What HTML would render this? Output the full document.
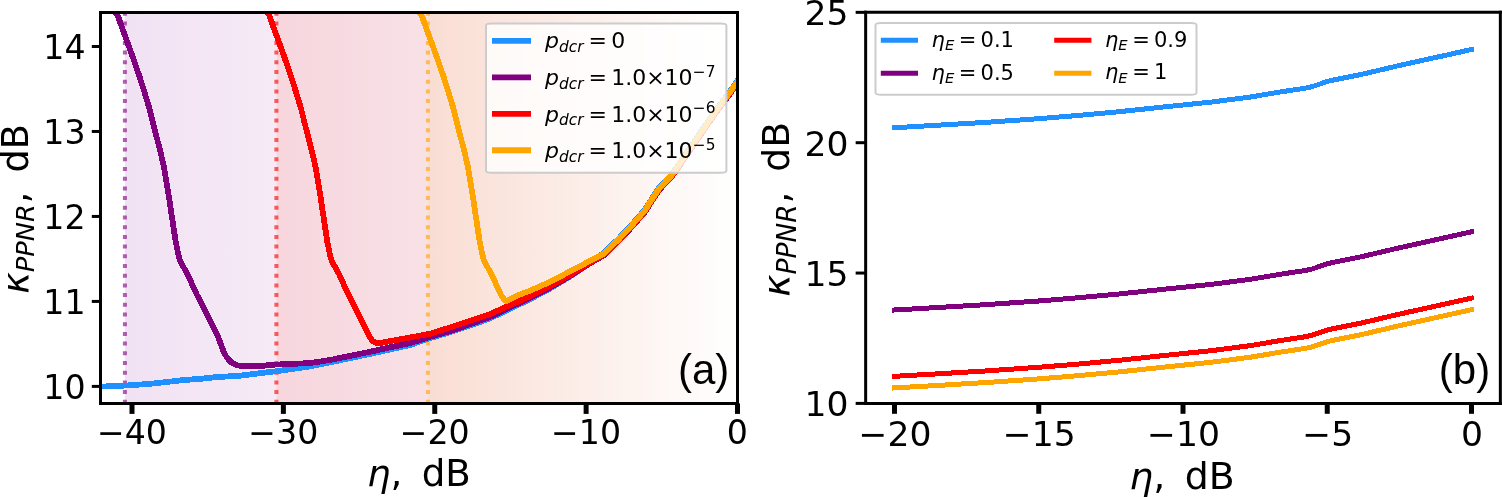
<!DOCTYPE html>
<html><head><meta charset="utf-8"><title>figure</title>
<style>html,body{margin:0;padding:0;background:#fff;}body{width:1502px;height:497px;overflow:hidden;}svg{display:block;}</style>
</head><body>
<svg width="1502" height="497" viewBox="0 0 1502 497" version="1.1"> <defs> <style type="text/css">svg *{stroke-linejoin: round; stroke-linecap: butt}</style> </defs> <g id="figure_1"> <g id="patch_1"> <path d="M 0 497 L 1502 497 L 1502 0 L 0 0 z " style="fill: #ffffff"/> </g> <g id="axes_1"> <g id="patch_2"> <path d="M 100.5 403.4 L 737.5 403.4 L 737.5 12.4 L 100.5 12.4 z " style="fill: #ffffff"/> </g> <g id="bg"><defs><linearGradient id="bgg0" x1="0" y1="0" x2="1" y2="0"><stop offset="0" stop-color="rgb(241,226,243)"/><stop offset="1" stop-color="rgb(246,234,246)"/></linearGradient><linearGradient id="bgg1" x1="0" y1="0" x2="1" y2="0"><stop offset="0" stop-color="rgb(247,214,222)"/><stop offset="1" stop-color="rgb(248,225,230)"/></linearGradient><linearGradient id="bgg2" x1="0" y1="0" x2="1" y2="0"><stop offset="0" stop-color="rgb(249,221,211)"/><stop offset="1" stop-color="rgb(255,255,255)"/></linearGradient></defs><rect x="124.90" y="12.40" width="151.51" height="391.00" fill="url(#bgg0)"/><rect x="276.40" y="12.40" width="151.51" height="391.00" fill="url(#bgg1)"/><rect x="427.90" y="12.40" width="309.61" height="391.00" fill="url(#bgg2)"/></g> <g id="line2d_1"> <path d="M 124.9 403.791 L 124.9 12.4 " clip-path="url(#p81930a7dab)" style="fill: none; stroke-dasharray: 4,5.7; stroke-dashoffset: 0; stroke: #800080; stroke-opacity: 0.62; stroke-width: 4"/> </g> <g id="line2d_2"> <path d="M 276.4 403.791 L 276.4 12.4 " clip-path="url(#p81930a7dab)" style="fill: none; stroke-dasharray: 4,5.7; stroke-dashoffset: 0; stroke: #ff0000; stroke-opacity: 0.62; stroke-width: 4"/> </g> <g id="line2d_3"> <path d="M 427.9 403.791 L 427.9 12.4 " clip-path="url(#p81930a7dab)" style="fill: none; stroke-dasharray: 4,5.7; stroke-dashoffset: 0; stroke: #ffa500; stroke-opacity: 0.62; stroke-width: 4"/> </g> <g id="matplotlib.axis_1"> <g id="xtick_1"> <g id="line2d_4"> <g> <path transform="translate(132 403.4)" d="M 0 0 L 0 10.5 " style="stroke: #000000; stroke-width: 5"/> </g> </g> </g> <g id="xtick_2"> <g id="line2d_5"> <g> <path transform="translate(283.375 403.4)" d="M 0 0 L 0 10.5 " style="stroke: #000000; stroke-width: 5"/> </g> </g> </g> <g id="xtick_3"> <g id="line2d_6"> <g> <path transform="translate(434.75 403.4)" d="M 0 0 L 0 10.5 " style="stroke: #000000; stroke-width: 5"/> </g> </g> </g> <g id="xtick_4"> <g id="line2d_7"> <g> <path transform="translate(586.125 403.4)" d="M 0 0 L 0 10.5 " style="stroke: #000000; stroke-width: 5"/> </g> </g> </g> <g id="xtick_5"> <g id="line2d_8"> <g> <path transform="translate(737.5 403.4)" d="M 0 0 L 0 10.5 " style="stroke: #000000; stroke-width: 5"/> </g> </g> </g> </g> <g id="matplotlib.axis_2"> <g id="ytick_1"> <g id="line2d_9"> <g> <path transform="translate(100.5 386.4)" d="M 0 0 L -8.7 0 " style="stroke: #000000; stroke-width: 3"/> </g> </g> </g> <g id="ytick_2"> <g id="line2d_10"> <g> <path transform="translate(100.5 301.42)" d="M 0 0 L -8.7 0 " style="stroke: #000000; stroke-width: 3"/> </g> </g> </g> <g id="ytick_3"> <g id="line2d_11"> <g> <path transform="translate(100.5 216.44)" d="M 0 0 L -8.7 0 " style="stroke: #000000; stroke-width: 3"/> </g> </g> </g> <g id="ytick_4"> <g id="line2d_12"> <g> <path transform="translate(100.5 131.46)" d="M 0 0 L -8.7 0 " style="stroke: #000000; stroke-width: 3"/> </g> </g> </g> <g id="ytick_5"> <g id="line2d_13"> <g> <path transform="translate(100.5 46.48)" d="M 0 0 L -8.7 0 " style="stroke: #000000; stroke-width: 3"/> </g> </g> </g> </g> <g id="line2d_14"> <path d="M 98 386.8 L 102 386.6 L 126.6 385.5 L 149.3 383.9 L 166.6 382 L 183.9 380 L 200 378.9 L 215 377.2 L 240 375.7 L 260 373.2 L 270 372 L 280 370.8 L 310 366.4 L 330 362.4 L 370 353.9 L 390 349.5 L 410 345 L 430 338.2 L 450 332.2 L 470 325.6 L 490 318.4 L 530 299.2 L 550 288.6 L 570 276.6 L 585 266.6 L 604.2 252.6 L 618.7 238.5 L 632 224.4 L 644.4 210.3 L 653.5 196.2 L 659 187.8 L 664.9 181.4 L 671.3 175 L 678.3 165.3 L 683.6 157.2 L 689 149.2 L 693.2 143.2 L 705.3 125.5 L 716.5 109.4 L 728.6 93.3 L 737.5 80.7 L 745 70.2 " clip-path="url(#p81930a7dab)" style="fill: none; stroke: #1e90ff; stroke-width: 5.8; stroke-linecap: square; shape-rendering: crispEdges"/> </g> <g id="line2d_15"> <path d="M 112.5 10 L 117.6 15 L 121.8 27.1 L 127.4 42.2 L 133.3 58.6 L 139.4 76.1 L 144.5 92.3 L 149.4 108.4 L 153.4 124.5 L 156.6 137 L 160.3 151.1 L 164 167.3 L 166.7 183.4 L 169.4 199.5 L 171.2 212 L 173.3 226.1 L 175.8 242.3 L 179.2 258.4 L 181.3 263.2 L 187.7 274.5 L 193.3 287 L 197 295 L 200.8 302.1 L 209.4 319.2 L 217.9 336.3 L 224.3 353.4 L 228 359 L 232 363 L 237 365.3 L 245 366.3 L 260 366.4 L 270 364.8 L 280 364.4 L 310 363.1 L 330 360 L 370 351.8 L 390 347.3 L 410 343.2 L 430 336.9 L 450 331.2 L 470 324.2 L 490 317 L 530 297.8 L 550 287.6 L 570 276 L 585 266.2 L 604.2 255 L 618.7 240.9 L 632 226.8 L 644.4 212.7 L 653.5 198.6 L 659 190.2 L 664.9 183.8 L 671.3 177.4 L 678.3 167.7 L 683.6 159.6 L 689 151.6 L 693.2 145.6 L 705.3 127.9 L 716.5 111.8 L 728.6 95.7 L 737.5 83.1 L 745 72.6 " clip-path="url(#p81930a7dab)" style="fill: none; stroke: #800080; stroke-width: 5.8; stroke-linecap: square; shape-rendering: crispEdges"/> </g> <g id="line2d_16"> <path d="M 264.1 10 L 269.2 15 L 273.4 27.1 L 279 42.2 L 284.9 58.6 L 291 76.1 L 296.1 92.3 L 301 108.4 L 305 124.5 L 308.2 137 L 311.9 151.1 L 315.6 167.3 L 318.3 183.4 L 321 199.5 L 322.8 212 L 324.9 226.1 L 327.4 242.3 L 330.8 258.4 L 332.9 263.2 L 339.3 274.5 L 344.9 287 L 348.6 295 L 352.4 302.1 L 361 319.2 L 369.5 336.3 L 372.5 340.8 L 376 343 L 380 343.2 L 390 341.1 L 410 337.5 L 430 333.8 L 450 327.5 L 470 320.8 L 490 314.1 L 506 307 L 530 296.2 L 550 286.3 L 570 275.1 L 585 265.5 L 604.2 254.7 L 618.7 240.6 L 632 226.5 L 644.4 212.4 L 653.5 198.3 L 659 189.9 L 664.9 183.5 L 671.3 177.1 L 678.3 167.4 L 683.6 159.3 L 689 151.3 L 693.2 145.3 L 705.3 127.6 L 716.5 111.5 L 728.6 95.4 L 737.5 82.8 L 745 72.3 " clip-path="url(#p81930a7dab)" style="fill: none; stroke: #ff0000; stroke-width: 5.8; stroke-linecap: square; shape-rendering: crispEdges"/> </g> <g id="line2d_17"> <path d="M 416.5 10 L 421.6 15 L 425.8 27.1 L 431.4 42.2 L 437.3 58.6 L 443.4 76.1 L 448.5 92.3 L 453.4 108.4 L 457.4 124.5 L 460.6 137 L 464.3 151.1 L 468 167.3 L 470.7 183.4 L 473.4 199.5 L 475.2 212 L 477.3 226.1 L 479.8 242.3 L 483.2 258.4 L 485.3 263.2 L 491.7 274.5 L 497.3 287 L 501 295 L 504 299.3 L 506.5 301.2 L 510 299.5 L 518.2 295.1 L 530 290.7 L 550 281.9 L 570 271.4 L 585 263.5 L 604.2 253.4 L 618.7 239.3 L 632 225.2 L 644.4 211.1 L 653.5 197 L 659 188.6 L 664.9 182.2 L 671.3 175.8 L 678.3 166.1 L 683.6 158 L 689 150 L 693.2 144 L 705.3 126.3 L 716.5 110.2 L 728.6 94.1 L 737.5 81.5 L 745 71 " clip-path="url(#p81930a7dab)" style="fill: none; stroke: #ffa500; stroke-width: 5.8; stroke-linecap: square; shape-rendering: crispEdges"/> </g> <g id="patch_3"> <path d="M 100.5 403.4 L 100.5 12.4 " style="fill: none; stroke: #000000; stroke-width: 3; stroke-linejoin: miter; stroke-linecap: square"/> </g> <g id="patch_4"> <path d="M 737.5 403.4 L 737.5 12.4 " style="fill: none; stroke: #000000; stroke-width: 3; stroke-linejoin: miter; stroke-linecap: square"/> </g> <g id="patch_5"> <path d="M 100.5 403.4 L 737.5 403.4 " style="fill: none; stroke: #000000; stroke-width: 3; stroke-linejoin: miter; stroke-linecap: square"/> </g> <g id="patch_6"> <path d="M 100.5 12.4 L 737.5 12.4 " style="fill: none; stroke: #000000; stroke-width: 3; stroke-linejoin: miter; stroke-linecap: square"/> </g> </g> <g id="axes_2"> <g id="patch_7"> <path d="M 865.65 403.4 L 1500.35 403.4 L 1500.35 12.35 L 865.65 12.35 z " style="fill: #ffffff"/> </g> <g id="matplotlib.axis_3"> <g id="xtick_6"> <g id="line2d_18"> <g> <path transform="translate(894.5 403.4)" d="M 0 0 L 0 10.4 " style="stroke: #000000; stroke-width: 5"/> </g> </g> </g> <g id="xtick_7"> <g id="line2d_19"> <g> <path transform="translate(1038.75 403.4)" d="M 0 0 L 0 10.4 " style="stroke: #000000; stroke-width: 5"/> </g> </g> </g> <g id="xtick_8"> <g id="line2d_20"> <g> <path transform="translate(1183 403.4)" d="M 0 0 L 0 10.4 " style="stroke: #000000; stroke-width: 5"/> </g> </g> </g> <g id="xtick_9"> <g id="line2d_21"> <g> <path transform="translate(1327.25 403.4)" d="M 0 0 L 0 10.4 " style="stroke: #000000; stroke-width: 5"/> </g> </g> </g> <g id="xtick_10"> <g id="line2d_22"> <g> <path transform="translate(1471.5 403.4)" d="M 0 0 L 0 10.4 " style="stroke: #000000; stroke-width: 5"/> </g> </g> </g> </g> <g id="matplotlib.axis_4"> <g id="ytick_6"> <g id="line2d_23"> <g> <path transform="translate(865.65 403.4)" d="M 0 0 L -10 0 " style="stroke: #000000; stroke-width: 3"/> </g> </g> </g> <g id="ytick_7"> <g id="line2d_24"> <g> <path transform="translate(865.65 273.05)" d="M 0 0 L -10 0 " style="stroke: #000000; stroke-width: 3"/> </g> </g> </g> <g id="ytick_8"> <g id="line2d_25"> <g> <path transform="translate(865.65 142.7)" d="M 0 0 L -10 0 " style="stroke: #000000; stroke-width: 3"/> </g> </g> </g> <g id="ytick_9"> <g id="line2d_26"> <g> <path transform="translate(865.65 12.35)" d="M 0 0 L -10 0 " style="stroke: #000000; stroke-width: 3"/> </g> </g> </g> </g> <g id="line2d_27"> <path d="M 894.5 127.7 L 933.2 125.5 L 986.5 122.3 L 1040 118.6 L 1080 115.3 L 1120 111.6 L 1170 106.3 L 1210.3 102.2 L 1250.5 97 L 1280 92 L 1296 89.6 L 1305 88.2 L 1312 86.7 L 1320 84 L 1328 81.2 L 1336 79.5 L 1344 77.9 L 1360 74.7 L 1371.3 72.1 L 1395 66.5 L 1411.5 62.8 L 1451.8 53.9 L 1471.5 49.5 " clip-path="url(#pbbc8b22e0b)" style="fill: none; stroke: #1e90ff; stroke-width: 5; stroke-linecap: square; shape-rendering: crispEdges"/> </g> <g id="line2d_28"> <path d="M 894.5 310 L 933.2 307.8 L 986.5 304.6 L 1040 300.9 L 1080 297.6 L 1120 293.9 L 1170 288.6 L 1210.3 284.5 L 1250.5 279.3 L 1280 274.3 L 1296 271.9 L 1305 270.5 L 1312 269 L 1320 266.3 L 1328 263.5 L 1336 261.8 L 1344 260.2 L 1360 257 L 1371.3 254.4 L 1395 248.8 L 1411.5 245.1 L 1451.8 236.2 L 1471.5 231.8 " clip-path="url(#pbbc8b22e0b)" style="fill: none; stroke: #800080; stroke-width: 5; stroke-linecap: square; shape-rendering: crispEdges"/> </g> <g id="line2d_29"> <path d="M 894.5 376.3 L 933.2 374.1 L 986.5 370.9 L 1040 367.2 L 1080 363.9 L 1120 360.2 L 1170 354.9 L 1210.3 350.8 L 1250.5 345.6 L 1280 340.6 L 1296 338.2 L 1305 336.8 L 1312 335.3 L 1320 332.6 L 1328 329.8 L 1336 328.1 L 1344 326.5 L 1360 323.3 L 1371.3 320.7 L 1395 315.1 L 1411.5 311.4 L 1451.8 302.5 L 1471.5 298.1 " clip-path="url(#pbbc8b22e0b)" style="fill: none; stroke: #ff0000; stroke-width: 5; stroke-linecap: square; shape-rendering: crispEdges"/> </g> <g id="line2d_30"> <path d="M 894.5 387.9 L 933.2 385.7 L 986.5 382.5 L 1040 378.8 L 1080 375.5 L 1120 371.8 L 1170 366.5 L 1210.3 362.4 L 1250.5 357.2 L 1280 352.2 L 1296 349.8 L 1305 348.4 L 1312 346.9 L 1320 344.2 L 1328 341.4 L 1336 339.7 L 1344 338.1 L 1360 334.9 L 1371.3 332.3 L 1395 326.7 L 1411.5 323 L 1451.8 314.1 L 1471.5 309.7 " clip-path="url(#pbbc8b22e0b)" style="fill: none; stroke: #ffa500; stroke-width: 5; stroke-linecap: square; shape-rendering: crispEdges"/> </g> <g id="patch_8"> <path d="M 865.65 403.4 L 865.65 12.35 " style="fill: none; stroke: #000000; stroke-width: 3; stroke-linejoin: miter; stroke-linecap: square"/> </g> <g id="patch_9"> <path d="M 1500.35 403.4 L 1500.35 12.35 " style="fill: none; stroke: #000000; stroke-width: 3; stroke-linejoin: miter; stroke-linecap: square"/> </g> <g id="patch_10"> <path d="M 865.65 403.4 L 1500.35 403.4 " style="fill: none; stroke: #000000; stroke-width: 3; stroke-linejoin: miter; stroke-linecap: square"/> </g> <g id="patch_11"> <path d="M 865.65 12.35 L 1500.35 12.35 " style="fill: none; stroke: #000000; stroke-width: 3; stroke-linejoin: miter; stroke-linecap: square"/> </g> </g> <g id="text_1"> <text style="font-size: 33.2px; font-family: 'DejaVu Sans', sans-serif; text-anchor: middle" x="131.9" y="443.8" transform="rotate(-0 131.9 443.8)">−40</text> </g> <g id="text_2"> <text style="font-size: 33.2px; font-family: 'DejaVu Sans', sans-serif; text-anchor: middle" x="283.275" y="443.8" transform="rotate(-0 283.275 443.8)">−30</text> </g> <g id="text_3"> <text style="font-size: 33.2px; font-family: 'DejaVu Sans', sans-serif; text-anchor: middle" x="434.65" y="443.8" transform="rotate(-0 434.65 443.8)">−20</text> </g> <g id="text_4"> <text style="font-size: 33.2px; font-family: 'DejaVu Sans', sans-serif; text-anchor: middle" x="586.025" y="443.8" transform="rotate(-0 586.025 443.8)">−10</text> </g> <g id="text_5"> <text style="font-size: 33.2px; font-family: 'DejaVu Sans', sans-serif; text-anchor: middle" x="737.4" y="443.8" transform="rotate(-0 737.4 443.8)">0</text> </g> <g id="text_6"> <text style="font-size: 33.2px; font-family: 'DejaVu Sans', sans-serif; text-anchor: end" x="85.5" y="398.6" transform="rotate(-0 85.5 398.6)">10</text> </g> <g id="text_7"> <text style="font-size: 33.2px; font-family: 'DejaVu Sans', sans-serif; text-anchor: end" x="85.5" y="313.62" transform="rotate(-0 85.5 313.62)">11</text> </g> <g id="text_8"> <text style="font-size: 33.2px; font-family: 'DejaVu Sans', sans-serif; text-anchor: end" x="85.5" y="228.64" transform="rotate(-0 85.5 228.64)">12</text> </g> <g id="text_9"> <text style="font-size: 33.2px; font-family: 'DejaVu Sans', sans-serif; text-anchor: end" x="85.5" y="143.66" transform="rotate(-0 85.5 143.66)">13</text> </g> <g id="text_10"> <text style="font-size: 33.2px; font-family: 'DejaVu Sans', sans-serif; text-anchor: end" x="85.5" y="58.68" transform="rotate(-0 85.5 58.68)">14</text> </g> <g id="text_11"> <text style="font-size: 34.6px; font-family: 'DejaVu Sans', sans-serif; text-anchor: middle" x="894.9" y="445.8" transform="rotate(-0 894.9 445.8)">−20</text> </g> <g id="text_12"> <text style="font-size: 34.6px; font-family: 'DejaVu Sans', sans-serif; text-anchor: middle" x="1039.15" y="445.8" transform="rotate(-0 1039.15 445.8)">−15</text> </g> <g id="text_13"> <text style="font-size: 34.6px; font-family: 'DejaVu Sans', sans-serif; text-anchor: middle" x="1183.4" y="445.8" transform="rotate(-0 1183.4 445.8)">−10</text> </g> <g id="text_14"> <text style="font-size: 34.6px; font-family: 'DejaVu Sans', sans-serif; text-anchor: middle" x="1327.65" y="445.8" transform="rotate(-0 1327.65 445.8)">−5</text> </g> <g id="text_15"> <text style="font-size: 34.6px; font-family: 'DejaVu Sans', sans-serif; text-anchor: middle" x="1471.9" y="445.8" transform="rotate(-0 1471.9 445.8)">0</text> </g> <g id="text_16"> <text style="font-size: 34.6px; font-family: 'DejaVu Sans', sans-serif; text-anchor: end" x="848.5" y="416.3" transform="rotate(-0 848.5 416.3)">10</text> </g> <g id="text_17"> <text style="font-size: 34.6px; font-family: 'DejaVu Sans', sans-serif; text-anchor: end" x="848.5" y="285.95" transform="rotate(-0 848.5 285.95)">15</text> </g> <g id="text_18"> <text style="font-size: 34.6px; font-family: 'DejaVu Sans', sans-serif; text-anchor: end" x="848.5" y="155.6" transform="rotate(-0 848.5 155.6)">20</text> </g> <g id="text_19"> <text style="font-size: 34.6px; font-family: 'DejaVu Sans', sans-serif; text-anchor: end" x="848.5" y="25.25" transform="rotate(-0 848.5 25.25)">25</text> </g> <g id="text_20"> <!-- $\eta,\ \mathrm{dB}$ --> <g transform="translate(366.92 486.4)"> <text> <tspan x="0" y="-0.890625" style="font-style: oblique; font-size: 37.2px; font-family: 'DejaVu Sans', sans-serif">η</tspan> <tspan x="23.608643" y="-0.890625" style="font-size: 37.2px; font-family: 'DejaVu Sans', sans-serif">,</tspan> <tspan x="54.801759" y="-0.890625" style="font-size: 37.2px; font-family: 'DejaVu Sans', sans-serif">d</tspan> <tspan x="78.446778" y="-0.890625" style="font-size: 37.2px; font-family: 'DejaVu Sans', sans-serif">B</tspan> </text> </g> </g> <g id="text_21"> <!-- $\eta,\ \mathrm{dB}$ --> <g transform="translate(1129.28 489.3)"> <text> <tspan x="0" y="-0.125" style="font-style: oblique; font-size: 37.8px; font-family: 'DejaVu Sans', sans-serif">η</tspan> <tspan x="23.925537" y="-0.125" style="font-size: 37.8px; font-family: 'DejaVu Sans', sans-serif">,</tspan> <tspan x="55.537353" y="-0.125" style="font-size: 37.8px; font-family: 'DejaVu Sans', sans-serif">d</tspan> <tspan x="79.499755" y="-0.125" style="font-size: 37.8px; font-family: 'DejaVu Sans', sans-serif">B</tspan> </text> </g> </g> <g id="text_22"> <!-- $\kappa_{PPNR},\ \mathrm{dB}$ --> <g transform="translate(29 293.729) rotate(-90)"> <text> <tspan x="0" y="-0.890625" style="font-style: oblique; font-size: 36.6px; font-family: 'DejaVu Sans', sans-serif">κ</tspan> <tspan x="21.585144" y="5.179688" style="font-style: oblique; font-size: 25.62px; font-family: 'DejaVu Sans', sans-serif">P</tspan> <tspan x="37.045258" y="5.179688" style="font-style: oblique; font-size: 25.62px; font-family: 'DejaVu Sans', sans-serif">P</tspan> <tspan x="52.505371" y="5.179688" style="font-style: oblique; font-size: 25.62px; font-family: 'DejaVu Sans', sans-serif">N</tspan> <tspan x="71.683423" y="5.179688" style="font-style: oblique; font-size: 25.62px; font-family: 'DejaVu Sans', sans-serif">R</tspan> <tspan x="90.508698" y="-0.890625" style="font-size: 36.6px; font-family: 'DejaVu Sans', sans-serif">,</tspan> <tspan x="121.178439" y="-0.890625" style="font-size: 36.6px; font-family: 'DejaVu Sans', sans-serif">d</tspan> <tspan x="144.42673" y="-0.890625" style="font-size: 36.6px; font-family: 'DejaVu Sans', sans-serif">B</tspan> </text> </g> </g> <g id="text_23"> <!-- $\kappa_{PPNR},\ \mathrm{dB}$ --> <g transform="translate(789.4 296.707) rotate(-90)"> <text> <tspan x="0" y="-0.125" style="font-style: oblique; font-size: 37.8px; font-family: 'DejaVu Sans', sans-serif">κ</tspan> <tspan x="22.248169" y="6.109375" style="font-style: oblique; font-size: 26.46px; font-family: 'DejaVu Sans', sans-serif">P</tspan> <tspan x="38.183167" y="6.109375" style="font-style: oblique; font-size: 26.46px; font-family: 'DejaVu Sans', sans-serif">P</tspan> <tspan x="54.118164" y="6.109375" style="font-style: oblique; font-size: 26.46px; font-family: 'DejaVu Sans', sans-serif">N</tspan> <tspan x="73.885303" y="6.109375" style="font-style: oblique; font-size: 26.46px; font-family: 'DejaVu Sans', sans-serif">R</tspan> <tspan x="93.285095" y="-0.125" style="font-size: 37.8px; font-family: 'DejaVu Sans', sans-serif">,</tspan> <tspan x="124.896911" y="-0.125" style="font-size: 37.8px; font-family: 'DejaVu Sans', sans-serif">d</tspan> <tspan x="148.859313" y="-0.125" style="font-size: 37.8px; font-family: 'DejaVu Sans', sans-serif">B</tspan> </text> </g> </g> <g id="text_24"> <text style="font-size: 42px; font-family: 'Liberation Sans', sans-serif; text-anchor: end" x="729.3" y="383.7" transform="rotate(-0 729.3 383.7)">(a)</text> </g> <g id="text_25"> <text style="font-size: 42px; font-family: 'Liberation Sans', sans-serif; text-anchor: end" x="1490.2" y="384.2" transform="rotate(-0 1490.2 384.2)">(b)</text> </g> <g id="patch_12"> <path d="M 492.008 172.85 L 720.392 172.85 Q 726.4 172.85 726.4 170.862 L 726.4 25.438 Q 726.4 23.45 720.392 23.45 L 492.008 23.45 Q 486 23.45 486 25.438 L 486 170.862 Q 486 172.85 492.008 172.85 z " style="fill: #ffffff; fill-opacity: 0.8; stroke: #cccccc; stroke-width: 2; stroke-linejoin: miter"/> </g> <g id="patch_13"> <path d="M 881.508 94.8 L 1190.492 94.8 Q 1196.5 94.8 1196.5 92.812 L 1196.5 24.988 Q 1196.5 23 1190.492 23 L 881.508 23 Q 875.5 23 875.5 24.988 L 875.5 92.812 Q 875.5 94.8 881.508 94.8 z " style="fill: #ffffff; fill-opacity: 0.8; stroke: #cccccc; stroke-width: 2; stroke-linejoin: miter"/> </g> <g id="line2d_31"> <path d="M 492 40.9 L 531 40.9 " style="fill: none; stroke: #1e90ff; stroke-width: 5.8"/> </g> <g id="line2d_32"> <path d="M 492 77.35 L 531 77.35 " style="fill: none; stroke: #800080; stroke-width: 5.8"/> </g> <g id="line2d_33"> <path d="M 492 113.8 L 531 113.8 " style="fill: none; stroke: #ff0000; stroke-width: 5.8"/> </g> <g id="line2d_34"> <path d="M 492 150.25 L 531 150.25 " style="fill: none; stroke: #ffa500; stroke-width: 5.8"/> </g> <g id="line2d_35"> <path d="M 880.8 40.2 L 918 40.2 " style="fill: none; stroke: #1e90ff; stroke-width: 5"/> </g> <g id="line2d_36"> <path d="M 880.8 73.3 L 918 73.3 " style="fill: none; stroke: #800080; stroke-width: 5"/> </g> <g id="line2d_37"> <path d="M 1054.2 40.2 L 1091.4 40.2 " style="fill: none; stroke: #ff0000; stroke-width: 5"/> </g> <g id="line2d_38"> <path d="M 1054.2 73.3 L 1091.4 73.3 " style="fill: none; stroke: #ffa500; stroke-width: 5"/> </g> <g id="text_26"> <!-- $p_{dcr}=0$ --> <g transform="translate(545 49)"> <text> <tspan x="0" y="-0.671875" style="font-style: oblique; font-size: 22px; font-family: 'DejaVu Sans', sans-serif">p</tspan> <tspan x="13.964844" y="2.9375" style="font-style: oblique; font-size: 15.4px; font-family: 'DejaVu Sans', sans-serif">d</tspan> <tspan x="23.740234" y="2.9375" style="font-style: oblique; font-size: 15.4px; font-family: 'DejaVu Sans', sans-serif">c</tspan> <tspan x="32.207227" y="2.9375" style="font-style: oblique; font-size: 15.4px; font-family: 'DejaVu Sans', sans-serif">r</tspan> <tspan x="43.426367" y="-0.671875" style="font-size: 22px; font-family: 'DejaVu Sans', sans-serif">=</tspan> <tspan x="66.146094" y="-0.671875" style="font-size: 22px; font-family: 'DejaVu Sans', sans-serif">0</tspan> </text> </g> </g> <g id="text_27"> <!-- $p_{dcr}=1.0{\times}10^{-7}$ --> <g transform="translate(545 85.45)"> <text> <tspan x="0" y="-0.35625" style="font-style: oblique; font-size: 22px; font-family: 'DejaVu Sans', sans-serif">p</tspan> <tspan x="13.964844" y="3.253125" style="font-style: oblique; font-size: 15.4px; font-family: 'DejaVu Sans', sans-serif">d</tspan> <tspan x="23.740234" y="3.253125" style="font-style: oblique; font-size: 15.4px; font-family: 'DejaVu Sans', sans-serif">c</tspan> <tspan x="32.207227" y="3.253125" style="font-style: oblique; font-size: 15.4px; font-family: 'DejaVu Sans', sans-serif">r</tspan> <tspan x="43.426367" y="-0.35625" style="font-size: 22px; font-family: 'DejaVu Sans', sans-serif">=</tspan> <tspan x="66.146094" y="-0.35625" style="font-size: 22px; font-family: 'DejaVu Sans', sans-serif">1</tspan> <tspan x="80.143164" y="-0.35625" style="font-size: 22px; font-family: 'DejaVu Sans', sans-serif">.</tspan> <tspan x="87.136328" y="-0.35625" style="font-size: 22px; font-family: 'DejaVu Sans', sans-serif">0</tspan> <tspan x="101.133398" y="-0.35625" style="font-size: 22px; font-family: 'DejaVu Sans', sans-serif">×</tspan> <tspan x="119.566992" y="-0.35625" style="font-size: 22px; font-family: 'DejaVu Sans', sans-serif">1</tspan> <tspan x="133.564063" y="-0.35625" style="font-size: 22px; font-family: 'DejaVu Sans', sans-serif">0</tspan> <tspan x="147.77168" y="-8.778125" style="font-size: 15.4px; font-family: 'DejaVu Sans', sans-serif">−</tspan> <tspan x="160.675195" y="-8.778125" style="font-size: 15.4px; font-family: 'DejaVu Sans', sans-serif">7</tspan> </text> </g> </g> <g id="text_28"> <!-- $p_{dcr}=1.0{\times}10^{-6}$ --> <g transform="translate(545 121.9)"> <text> <tspan x="0" y="-0.148438" style="font-style: oblique; font-size: 22px; font-family: 'DejaVu Sans', sans-serif">p</tspan> <tspan x="13.964844" y="3.460938" style="font-style: oblique; font-size: 15.4px; font-family: 'DejaVu Sans', sans-serif">d</tspan> <tspan x="23.740234" y="3.460938" style="font-style: oblique; font-size: 15.4px; font-family: 'DejaVu Sans', sans-serif">c</tspan> <tspan x="32.207227" y="3.460938" style="font-style: oblique; font-size: 15.4px; font-family: 'DejaVu Sans', sans-serif">r</tspan> <tspan x="43.426367" y="-0.148438" style="font-size: 22px; font-family: 'DejaVu Sans', sans-serif">=</tspan> <tspan x="66.146094" y="-0.148438" style="font-size: 22px; font-family: 'DejaVu Sans', sans-serif">1</tspan> <tspan x="80.143164" y="-0.148438" style="font-size: 22px; font-family: 'DejaVu Sans', sans-serif">.</tspan> <tspan x="87.136328" y="-0.148438" style="font-size: 22px; font-family: 'DejaVu Sans', sans-serif">0</tspan> <tspan x="101.133398" y="-0.148438" style="font-size: 22px; font-family: 'DejaVu Sans', sans-serif">×</tspan> <tspan x="119.566992" y="-0.148438" style="font-size: 22px; font-family: 'DejaVu Sans', sans-serif">1</tspan> <tspan x="133.564063" y="-0.148438" style="font-size: 22px; font-family: 'DejaVu Sans', sans-serif">0</tspan> <tspan x="147.77168" y="-8.570312" style="font-size: 15.4px; font-family: 'DejaVu Sans', sans-serif">−</tspan> <tspan x="160.675195" y="-8.570312" style="font-size: 15.4px; font-family: 'DejaVu Sans', sans-serif">6</tspan> </text> </g> </g> <g id="text_29"> <!-- $p_{dcr}=1.0{\times}10^{-5}$ --> <g transform="translate(545 158.35)"> <text> <tspan x="0" y="-0.35625" style="font-style: oblique; font-size: 22px; font-family: 'DejaVu Sans', sans-serif">p</tspan> <tspan x="13.964844" y="3.253125" style="font-style: oblique; font-size: 15.4px; font-family: 'DejaVu Sans', sans-serif">d</tspan> <tspan x="23.740234" y="3.253125" style="font-style: oblique; font-size: 15.4px; font-family: 'DejaVu Sans', sans-serif">c</tspan> <tspan x="32.207227" y="3.253125" style="font-style: oblique; font-size: 15.4px; font-family: 'DejaVu Sans', sans-serif">r</tspan> <tspan x="43.426367" y="-0.35625" style="font-size: 22px; font-family: 'DejaVu Sans', sans-serif">=</tspan> <tspan x="66.146094" y="-0.35625" style="font-size: 22px; font-family: 'DejaVu Sans', sans-serif">1</tspan> <tspan x="80.143164" y="-0.35625" style="font-size: 22px; font-family: 'DejaVu Sans', sans-serif">.</tspan> <tspan x="87.136328" y="-0.35625" style="font-size: 22px; font-family: 'DejaVu Sans', sans-serif">0</tspan> <tspan x="101.133398" y="-0.35625" style="font-size: 22px; font-family: 'DejaVu Sans', sans-serif">×</tspan> <tspan x="119.566992" y="-0.35625" style="font-size: 22px; font-family: 'DejaVu Sans', sans-serif">1</tspan> <tspan x="133.564063" y="-0.35625" style="font-size: 22px; font-family: 'DejaVu Sans', sans-serif">0</tspan> <tspan x="147.77168" y="-8.778125" style="font-size: 15.4px; font-family: 'DejaVu Sans', sans-serif">−</tspan> <tspan x="160.675195" y="-8.778125" style="font-size: 15.4px; font-family: 'DejaVu Sans', sans-serif">5</tspan> </text> </g> </g> <g id="text_30"> <!-- $\eta_E=0.1$ --> <g transform="translate(931.6 47)"> <text> <tspan x="0" y="-0.40625" style="font-style: oblique; font-size: 21px; font-family: 'DejaVu Sans', sans-serif">η</tspan> <tspan x="13.30957" y="3.039062" style="font-style: oblique; font-size: 14.7px; font-family: 'DejaVu Sans', sans-serif">E</tspan> <tspan x="27.263086" y="-0.40625" style="font-size: 21px; font-family: 'DejaVu Sans', sans-serif">=</tspan> <tspan x="48.950098" y="-0.40625" style="font-size: 21px; font-family: 'DejaVu Sans', sans-serif">0</tspan> <tspan x="62.310938" y="-0.40625" style="font-size: 21px; font-family: 'DejaVu Sans', sans-serif">.</tspan> <tspan x="68.98623" y="-0.40625" style="font-size: 21px; font-family: 'DejaVu Sans', sans-serif">1</tspan> </text> </g> </g> <g id="text_31"> <!-- $\eta_E=0.5$ --> <g transform="translate(931.6 80.1)"> <text> <tspan x="0" y="-0.40625" style="font-style: oblique; font-size: 21px; font-family: 'DejaVu Sans', sans-serif">η</tspan> <tspan x="13.30957" y="3.039062" style="font-style: oblique; font-size: 14.7px; font-family: 'DejaVu Sans', sans-serif">E</tspan> <tspan x="27.263086" y="-0.40625" style="font-size: 21px; font-family: 'DejaVu Sans', sans-serif">=</tspan> <tspan x="48.950098" y="-0.40625" style="font-size: 21px; font-family: 'DejaVu Sans', sans-serif">0</tspan> <tspan x="62.310938" y="-0.40625" style="font-size: 21px; font-family: 'DejaVu Sans', sans-serif">.</tspan> <tspan x="68.98623" y="-0.40625" style="font-size: 21px; font-family: 'DejaVu Sans', sans-serif">5</tspan> </text> </g> </g> <g id="text_32"> <!-- $\eta_E=0.9$ --> <g transform="translate(1105 47)"> <text> <tspan x="0" y="-0.40625" style="font-style: oblique; font-size: 21px; font-family: 'DejaVu Sans', sans-serif">η</tspan> <tspan x="13.30957" y="3.039062" style="font-style: oblique; font-size: 14.7px; font-family: 'DejaVu Sans', sans-serif">E</tspan> <tspan x="27.263086" y="-0.40625" style="font-size: 21px; font-family: 'DejaVu Sans', sans-serif">=</tspan> <tspan x="48.950098" y="-0.40625" style="font-size: 21px; font-family: 'DejaVu Sans', sans-serif">0</tspan> <tspan x="62.310938" y="-0.40625" style="font-size: 21px; font-family: 'DejaVu Sans', sans-serif">.</tspan> <tspan x="68.98623" y="-0.40625" style="font-size: 21px; font-family: 'DejaVu Sans', sans-serif">9</tspan> </text> </g> </g> <g id="text_33"> <!-- $\eta_E=1$ --> <g transform="translate(1105 80.1)"> <text> <tspan x="0" y="-0.6875" style="font-style: oblique; font-size: 21px; font-family: 'DejaVu Sans', sans-serif">η</tspan> <tspan x="13.30957" y="2.757812" style="font-style: oblique; font-size: 14.7px; font-family: 'DejaVu Sans', sans-serif">E</tspan> <tspan x="27.263086" y="-0.6875" style="font-size: 21px; font-family: 'DejaVu Sans', sans-serif">=</tspan> <tspan x="48.950098" y="-0.6875" style="font-size: 21px; font-family: 'DejaVu Sans', sans-serif">1</tspan> </text> </g> </g> </g> <defs> <clipPath id="p81930a7dab"> <rect x="100.5" y="12.4" width="637" height="391"/> </clipPath> <clipPath id="pbbc8b22e0b"> <rect x="865.65" y="12.35" width="634.7" height="391.05"/> </clipPath> </defs> </svg> 
</body></html>
